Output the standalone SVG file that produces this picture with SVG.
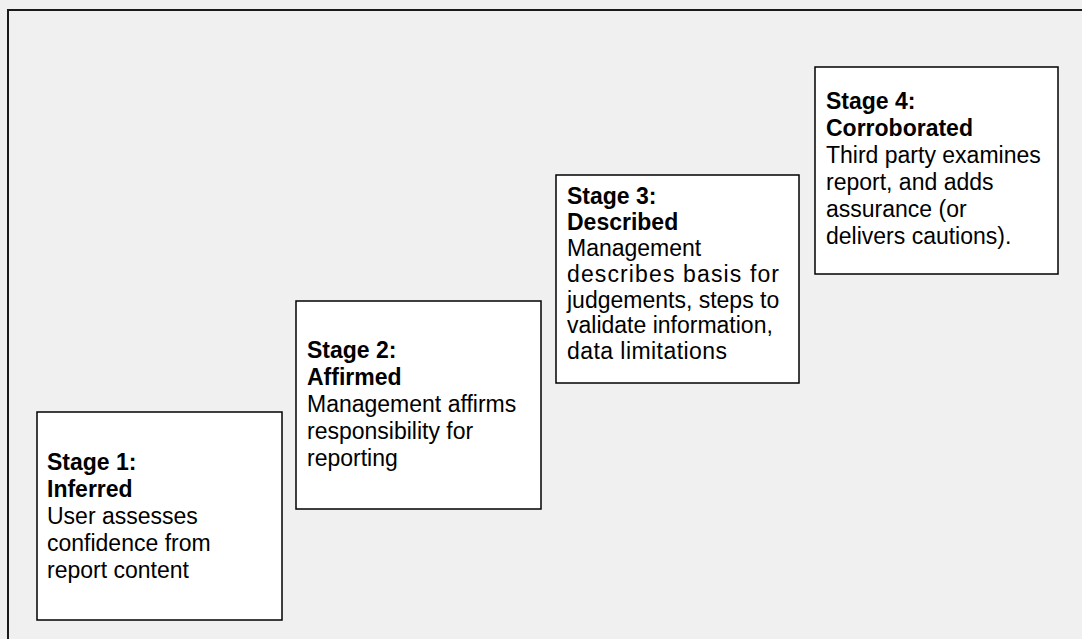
<svg xmlns="http://www.w3.org/2000/svg" width="1082" height="639" viewBox="0 0 1082 639">
<style>
.bg{fill:#f0f0f0}
.frame{fill:none;stroke:#1a1a1a;stroke-width:2}
.box{fill:#ffffff;stroke:#000000;stroke-width:1.5}
.t{font-family:"Liberation Sans",Arial,sans-serif;font-size:23px;fill:#000000}
.b{font-weight:bold}
</style>
<rect class="bg" x="0" y="0" width="1082" height="639"/>
<path class="frame" d="M8,640 V10 H1083"/>
<g id="stage1">
<rect class="box" x="37" y="412" width="245" height="208"/>
<text class="t" x="47" y="470"><tspan class="b" x="47" y="470">Stage 1:</tspan><tspan class="b" x="47" y="497">Inferred</tspan><tspan x="47" y="524">User assesses</tspan><tspan x="47" y="551">confidence from</tspan><tspan x="47" y="578">report content</tspan></text>
</g>
<g id="stage2">
<rect class="box" x="296" y="301" width="245" height="208"/>
<text class="t" x="307" y="358"><tspan class="b" x="307" y="358">Stage 2:</tspan><tspan class="b" x="307" y="385">Affirmed</tspan><tspan x="307" y="412">Management affirms</tspan><tspan x="307" y="439">responsibility for</tspan><tspan x="307" y="466">reporting</tspan></text>
</g>
<g id="stage3">
<rect class="box" x="556" y="175" width="243" height="208"/>
<text class="t" x="567" y="204"><tspan class="b" x="567" y="204">Stage 3:</tspan><tspan class="b" x="567" y="230">Described</tspan><tspan x="567" y="256">Management</tspan><tspan x="567" y="282" textLength="212" lengthAdjust="spacing">describes basis for</tspan><tspan x="567" y="308">judgements, steps to</tspan><tspan x="567" y="333">validate information,</tspan><tspan x="567" y="359" textLength="160" lengthAdjust="spacing">data limitations</tspan></text>
</g>
<g id="stage4">
<rect class="box" x="815" y="67" width="243" height="207"/>
<text class="t" x="826" y="109"><tspan class="b" x="826" y="109">Stage 4:</tspan><tspan class="b" x="826" y="136">Corroborated</tspan><tspan x="826" y="163">Third party examines</tspan><tspan x="826" y="190">report, and adds</tspan><tspan x="826" y="217">assurance (or</tspan><tspan x="826" y="244">delivers cautions).</tspan></text>
</g>
<g id="connectors"></g>
</svg>
